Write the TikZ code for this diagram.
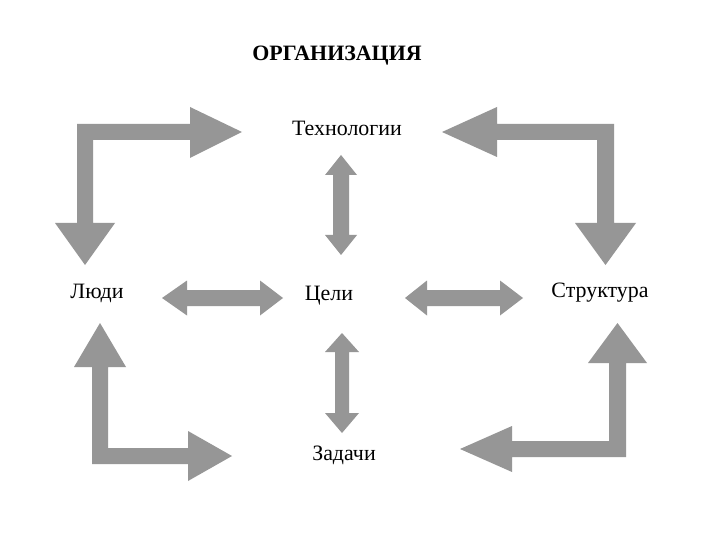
\documentclass[tikz,border=0pt]{standalone}
\usepackage{fontspec}
\setmainfont{Liberation Serif}
\definecolor{arrowgray}{RGB}{150,150,150}
\begin{document}
\begin{tikzpicture}[x=1bp,y=-1bp,
  blockarrow/.style={fill=arrowgray,draw=none},
  label/.style={inner sep=0pt,font=\fontsize{22}{25}\selectfont},
  titlelabel/.style={inner sep=0pt,font=\fontsize{22}{25}\selectfont\bfseries}]
\useasboundingbox[fill=white] (0,0) rectangle (720,540);
% labels
\node[titlelabel] (org) at (337,56) {ОРГАНИЗАЦИЯ};
\node[label] (tech) at (347,128) {Технологии};
\node[label] (people) at (97,293) {Люди};
\node[label] (goals) at (329,296) {Цели};
\node[label] (struct) at (600,293) {Структура};
\node[label] (tasks) at (344,455) {Задачи};
% top-left L arrow
\fill[blockarrow] (190,140) -- (93,140) -- (93,223) -- (115,223) -- (85,265) -- (55,223) -- (77,223) -- (77,124) -- (190,124) -- (190,107) -- (242,132) -- (190,158) -- cycle;
% top-right L arrow
\fill[blockarrow] (497,124) -- (614,124) -- (614,223) -- (636,223) -- (605.5,265) -- (575,223) -- (597,223) -- (597,140) -- (497,140) -- (497,157) -- (442,132) -- (497,107) -- cycle;
% bottom-left L arrow
\fill[blockarrow] (92,367) -- (74,367) -- (100,323) -- (126,367) -- (108,367) -- (108,448) -- (188,448) -- (188,431) -- (232,456) -- (188,481) -- (188,464) -- (92,464) -- cycle;
% bottom-right L arrow
\fill[blockarrow] (626,363) -- (647,363) -- (617.5,323) -- (588,363) -- (609,363) -- (609,441) -- (512,441) -- (512,426) -- (460,449) -- (512,472) -- (512,457) -- (626,457) -- cycle;
% vertical double arrow (top)
\fill[blockarrow] (341,155) -- (357,175) -- (349,175) -- (349,235) -- (357,235) -- (341,255) -- (325,235) -- (333,235) -- (333,175) -- (325,175) -- cycle;
% vertical double arrow (bottom)
\fill[blockarrow] (342,333) -- (359,352) -- (349,352) -- (349,413) -- (359,413) -- (342,433) -- (325,413) -- (335,413) -- (335,352) -- (325,352) -- cycle;
% horizontal double arrow (left)
\fill[blockarrow] (162,298) -- (187,280.5) -- (187,290) -- (260,290) -- (260,280.5) -- (283,298) -- (260,315.5) -- (260,306) -- (187,306) -- (187,315.5) -- cycle;
% horizontal double arrow (right)
\fill[blockarrow] (405,298) -- (427,280.5) -- (427,290) -- (500,290) -- (500,280.5) -- (523,298) -- (500,315.5) -- (500,306) -- (427,306) -- (427,315.5) -- cycle;
\end{tikzpicture}
\end{document}
